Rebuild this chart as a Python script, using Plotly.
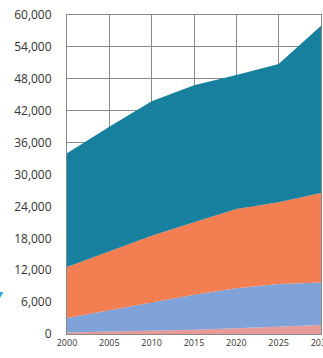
import plotly.graph_objects as go

years = [2000, 2005, 2010, 2015, 2020, 2025, 2030]
pink = [300, 450, 600, 800, 1100, 1400, 1700]
blue = [2700, 4050, 5400, 6600, 7500, 8000, 8000]
orange = [9600, 11000, 12500, 13600, 14900, 15400, 16800]
teal = [21400, 23500, 25300, 25800, 25200, 26000, 31500]
y_ticks = [0, 6000, 12000, 18000, 24000, 30000, 36000, 42000, 48000, 54000, 60000]
x_ticks = [2000, 2005, 2010, 2015, 2020, 2025, 2030]

series = [("pink", pink, "#E79A98"), ("blue", blue, "#7FA3D9"),
          ("orange", orange, "#F27E52"), ("teal", teal, "#17809E")]

fig = go.Figure()
for name, vals, col in series:
    fig.add_trace(go.Scatter(x=years, y=vals, stackgroup="one", mode="lines",
                             line=dict(width=0, color=col), fillcolor=col,
                             name=name, hoverinfo="skip"))

fig.update_layout(
    width=323, height=358,
    margin=dict(l=67, r=2, t=15, b=24, autoexpand=False),
    paper_bgcolor="white", plot_bgcolor="white",
    showlegend=False,
    font=dict(family="Open Sans", color="#333333"),
)
fig.add_annotation(text="<i><b>7</b></i>", x=-0.243, xref="paper", y=0.119, yref="paper",
                   showarrow=False, font=dict(size=15, color="#2FA6D8"),
                   xanchor="right", yanchor="middle")
fig.update_xaxes(range=[2000, 2030], tickvals=x_ticks, ticktext=[str(v) for v in x_ticks],
                 showgrid=True, gridcolor="#8a8a8a", gridwidth=1,
                 showline=True, linecolor="#8a8a8a", linewidth=1, mirror=True,
                 tickfont=dict(size=9, color="#333333"), ticks="", zeroline=False,
                 automargin=False, ticklabeloverflow="allow")
fig.update_yaxes(range=[0, 60000], tickvals=y_ticks,
                 ticktext=[f"{v:,}" for v in y_ticks],
                 showgrid=True, gridcolor="#8a8a8a", gridwidth=1,
                 showline=True, linecolor="#8a8a8a", linewidth=1, mirror=True,
                 tickfont=dict(size=12, color="#333333"), ticks="",
                 ticklabelstandoff=12, zeroline=False, automargin=False,
                 ticklabeloverflow="allow")

fig.write_html("out.html", config={"displayModeBar": False},
               post_script="document.body.style.margin='0px';document.body.style.overflow='hidden';")
